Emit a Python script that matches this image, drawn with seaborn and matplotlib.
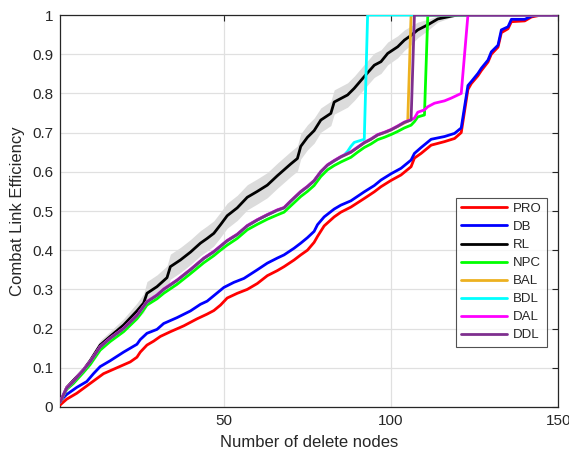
import numpy as np
import pandas as pd
import matplotlib
matplotlib.use("Agg")
import matplotlib.pyplot as plt
import seaborn as sns

# ---------------- data ----------------
pro_x = [1, 3, 6, 10, 14, 18, 22, 24, 25, 27, 29, 31, 34, 38, 42, 45, 47, 49, 51, 54, 57, 60, 63, 66, 68,
         71, 73, 75, 77, 78, 80, 83, 85, 88, 92, 95, 97, 100, 103, 106, 107, 109, 112, 116, 119, 121, 123,
         124, 126, 127, 129, 130, 132, 133, 135, 136, 140, 142, 145, 150]
pro_y = [0.005, 0.02, 0.035, 0.06, 0.085, 0.1, 0.115, 0.127, 0.14, 0.158, 0.168, 0.18, 0.192, 0.207, 0.225,
         0.237, 0.246, 0.26, 0.278, 0.29, 0.3, 0.315, 0.335, 0.348, 0.358, 0.375, 0.388, 0.4, 0.42, 0.435,
         0.462, 0.485, 0.497, 0.51, 0.532, 0.549, 0.562, 0.578, 0.592, 0.613, 0.635, 0.647, 0.668, 0.677,
         0.685, 0.7, 0.81, 0.825, 0.845, 0.858, 0.88, 0.9, 0.918, 0.955, 0.965, 0.983, 0.985, 0.995, 1.0, 1.0]

db_x = [1, 3, 6, 9, 11, 13, 16, 20, 24, 25, 27, 30, 32, 36, 40, 43, 45, 47, 50, 53, 56, 60, 63, 66, 68,
        71, 73, 75, 77, 78, 80, 83, 85, 88, 92, 95, 97, 100, 103, 106, 107, 109, 112, 116, 119, 121, 123,
        124, 126, 127, 129, 130, 132, 133, 135, 136, 140, 142, 144, 150]
db_y = [0.015, 0.032, 0.05, 0.065, 0.085, 0.103, 0.118, 0.14, 0.16, 0.172, 0.188, 0.198, 0.213, 0.228,
        0.245, 0.262, 0.27, 0.284, 0.305, 0.318, 0.328, 0.35, 0.367, 0.38, 0.388, 0.405, 0.418, 0.432,
        0.448, 0.465, 0.485, 0.505, 0.515, 0.526, 0.549, 0.565, 0.579, 0.595, 0.609, 0.63, 0.647, 0.662,
        0.683, 0.69, 0.698, 0.712, 0.82, 0.83, 0.851, 0.864, 0.885, 0.906, 0.923, 0.962, 0.97, 0.989,
        0.989, 0.997, 1.0, 1.0]

rl_x = [1, 3, 5, 8, 10, 13, 16, 20, 24, 26, 27, 30, 33, 34, 37, 40, 43, 45, 47, 49, 51, 54, 57, 60, 63,
        66, 68, 70, 72, 73, 75, 77, 79, 82, 83, 87, 89, 92, 95, 97, 99, 102, 104, 106, 108, 111, 114,
        118, 120, 150]
rl_y = [0.012, 0.05, 0.068, 0.095, 0.118, 0.158, 0.18, 0.209, 0.245, 0.265, 0.29, 0.307, 0.33, 0.358,
        0.375, 0.395, 0.418, 0.43, 0.443, 0.465, 0.488, 0.508, 0.535, 0.55, 0.566, 0.59, 0.605, 0.62,
        0.634, 0.665, 0.688, 0.705, 0.732, 0.749, 0.778, 0.796, 0.813, 0.843, 0.872, 0.881, 0.902, 0.919,
        0.936, 0.948, 0.962, 0.975, 0.99, 0.997, 1.0, 1.0]
rl_band = [0.003, 0.005, 0.006, 0.008, 0.01, 0.012, 0.013, 0.016, 0.02, 0.024, 0.03, 0.03, 0.03,
           0.032, 0.032, 0.032, 0.032, 0.032, 0.032, 0.032, 0.032, 0.032, 0.032, 0.032, 0.032, 0.032,
           0.032, 0.032, 0.032, 0.032, 0.032, 0.032, 0.031, 0.031, 0.031, 0.031, 0.031, 0.031, 0.031,
           0.03, 0.029, 0.028, 0.026, 0.024, 0.02, 0.014, 0.008, 0.003, 0.0, 0.0]

ddl_x = [1, 3, 5, 8, 10, 13, 16, 20, 24, 25, 27, 30, 32, 36, 40, 44, 47, 49, 51, 54, 57, 60, 63, 66, 68,
         70, 73, 75, 77, 79, 81, 83, 85, 88, 90, 92, 94, 96, 98, 100, 102, 104, 106, 107, 150]
ddl_y = [0.012, 0.048, 0.065, 0.094, 0.115, 0.153, 0.175, 0.2, 0.233, 0.245, 0.268, 0.285, 0.3, 0.323,
         0.35, 0.379, 0.396, 0.41, 0.424, 0.44, 0.462, 0.477, 0.49, 0.502, 0.508, 0.525, 0.549, 0.562,
         0.577, 0.6, 0.617, 0.628, 0.638, 0.65, 0.662, 0.674, 0.683, 0.694, 0.7, 0.707, 0.716, 0.726,
         0.732, 1.0, 1.0]

npc_x = [1, 3, 5, 8, 10, 13, 16, 20, 24, 25, 27, 30, 32, 36, 40, 44, 47, 49, 51, 54, 57, 60, 63, 66, 68,
         70, 73, 75, 77, 79, 81, 83, 85, 88, 90, 92, 94, 96, 98, 100, 102, 104, 106, 107, 108, 110, 111, 150]
npc_y = [0.012, 0.045, 0.06, 0.088, 0.108, 0.145, 0.167, 0.192, 0.225, 0.236, 0.26, 0.276, 0.29, 0.313,
         0.34, 0.368, 0.386, 0.4, 0.413, 0.43, 0.452, 0.466, 0.479, 0.49, 0.497, 0.513, 0.537, 0.55,
         0.565, 0.588, 0.605, 0.616, 0.625, 0.637, 0.65, 0.662, 0.671, 0.682, 0.688, 0.695, 0.703, 0.712,
         0.719, 0.728, 0.74, 0.745, 1.0, 1.0]

bal_x = [1, 3, 5, 8, 10, 13, 16, 20, 24, 25, 27, 30, 32, 36, 40, 44, 47, 49, 51, 54, 57, 60, 63, 66, 68,
         70, 73, 75, 77, 79, 81, 83, 85, 88, 90, 92, 94, 96, 98, 100, 102, 105, 106, 150]
bal_y = [0.012, 0.048, 0.065, 0.094, 0.115, 0.153, 0.175, 0.2, 0.233, 0.245, 0.268, 0.285, 0.3, 0.323,
         0.35, 0.379, 0.396, 0.41, 0.424, 0.44, 0.462, 0.477, 0.49, 0.502, 0.508, 0.525, 0.549, 0.562,
         0.577, 0.6, 0.617, 0.628, 0.638, 0.65, 0.662, 0.674, 0.683, 0.694, 0.7, 0.707, 0.716, 0.729,
         1.0, 1.0]

bdl_x = [1, 3, 5, 8, 10, 13, 16, 20, 24, 25, 27, 30, 32, 36, 40, 44, 47, 49, 51, 54, 57, 60, 63, 66, 68,
         70, 73, 75, 77, 79, 81, 83, 85, 86, 87, 88, 89, 92, 93, 150]
bdl_y = [0.012, 0.048, 0.065, 0.094, 0.115, 0.153, 0.175, 0.2, 0.233, 0.245, 0.268, 0.285, 0.3, 0.323,
         0.35, 0.379, 0.396, 0.41, 0.424, 0.44, 0.462, 0.477, 0.49, 0.502, 0.508, 0.525, 0.549, 0.562,
         0.577, 0.6, 0.617, 0.628, 0.638, 0.643, 0.652, 0.665, 0.675, 0.683, 1.0, 1.0]

dal_x = [1, 3, 5, 8, 10, 13, 16, 20, 24, 25, 27, 30, 32, 36, 40, 44, 47, 49, 51, 54, 57, 60, 63, 66, 68,
         70, 73, 75, 77, 79, 81, 83, 85, 88, 90, 92, 94, 96, 98, 100, 102, 104, 106, 107, 108, 110, 111,
         113, 116, 118, 120, 121, 123, 150]
dal_y = [0.013, 0.049, 0.066, 0.095, 0.116, 0.154, 0.176, 0.201, 0.234, 0.246, 0.269, 0.286, 0.301,
         0.324, 0.351, 0.38, 0.397, 0.411, 0.425, 0.441, 0.463, 0.478, 0.491, 0.503, 0.509, 0.526, 0.55,
         0.563, 0.578, 0.601, 0.618, 0.629, 0.639, 0.651, 0.663, 0.675, 0.684, 0.695, 0.701, 0.708, 0.717,
         0.727, 0.733, 0.737, 0.752, 0.758, 0.766, 0.775, 0.781, 0.788, 0.796, 0.8, 1.0, 1.0]

series = [
    ("PRO", pro_x, pro_y, "#ff0000"),
    ("DB", db_x, db_y, "#0000ff"),
    ("RL", rl_x, rl_y, "#000000"),
    ("NPC", npc_x, npc_y, "#00ff00"),
    ("BAL", bal_x, bal_y, "#edb120"),
    ("BDL", bdl_x, bdl_y, "#00ffff"),
    ("DAL", dal_x, dal_y, "#ff00ff"),
    ("DDL", ddl_x, ddl_y, "#7e2f8e"),
]

x_ticks = [50, 100, 150]
y_ticks = [0, 0.1, 0.2, 0.3, 0.4, 0.5, 0.6, 0.7, 0.8, 0.9, 1]
y_tick_labels = ["0", "0.1", "0.2", "0.3", "0.4", "0.5", "0.6", "0.7", "0.8", "0.9", "1"]

# ---------------- plot ----------------
sns.set_theme(style="white")
plt.rcParams["font.family"] = ["Liberation Sans", "DejaVu Sans"]
text_col = "#262626"

fig = plt.figure(figsize=(5.69, 4.55), dpi=100)
ax = fig.add_axes([0.1055, 0.1055, 0.8755, 0.8615])

rl_lo = np.array(rl_y) - np.array(rl_band)
rl_hi = np.minimum(np.array(rl_y) + np.array(rl_band), 1.0)
ax.fill_between(rl_x, rl_lo, rl_hi, color="#dcdcdc", lw=0, zorder=1)

for name, xs, ys, col in series:
    df = pd.DataFrame({"x": xs, "y": ys})
    sns.lineplot(data=df, x="x", y="y", ax=ax, color=col, lw=2.0, label=name,
                 sort=False, estimator=None, zorder=3)

ax.set_xlim(1, 150)
ax.set_ylim(0, 1)
ax.set_xticks(x_ticks)
ax.set_xticklabels([str(t) for t in x_ticks])
ax.set_yticks(y_ticks)
ax.set_yticklabels(y_tick_labels)
ax.grid(True, color="#e0e0e0", lw=0.9, zorder=0)
ax.set_axisbelow(True)
ax.tick_params(axis="both", direction="in", length=4, width=0.8, colors=text_col,
               labelsize=11, top=True, right=True, pad=5)
for s in ax.spines.values():
    s.set_color(text_col)
    s.set_linewidth(0.9)

ax.set_xlabel("Number of delete nodes", fontsize=12, color=text_col, labelpad=5)
ax.set_ylabel("Combat Link Efficiency", fontsize=12, color=text_col, labelpad=5)

leg = ax.legend(loc="lower right", bbox_to_anchor=(0.977, 0.154), fontsize=9.5,
                frameon=True, fancybox=False, handlelength=3.5, handletextpad=0.4,
                labelspacing=0.44, borderpad=0.4, borderaxespad=0)
leg.get_frame().set_edgecolor(text_col)
leg.get_frame().set_linewidth(0.8)
for t in leg.get_texts():
    t.set_color(text_col)

fig.savefig("out.png", dpi=100)
